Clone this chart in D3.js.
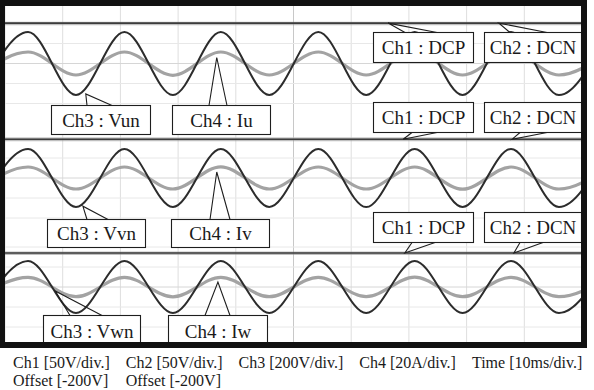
<!DOCTYPE html>
<html>
<head>
<meta charset="utf-8">
<script src="https://cdn.jsdelivr.net/npm/d3@7"></script>
<style>
  html, body { margin: 0; padding: 0; background: #fff; }
  svg { display: block; }
  text { font-family: "Liberation Serif", "DejaVu Serif", serif; fill: #1a1a1a; }
</style>
</head>
<body>
<svg id="chart" width="594" height="390"></svg>
<script>
// ------------------------------------------------------------
// data (one panel per phase)
// ------------------------------------------------------------
const panels = ['U', 'V', 'W'];

// alternating trough / peak instants of the traces (ms)
const extremaTimes = [-4.4, 4.0, 12.3, 20.7, 29.1, 37.4, 45.8, 54.3, 62.6, 71.0, 79.3, 87.7, 96.0, 104.4];

// Ch3 : phase voltages at those instants (V)
const vun = [-315, 315, -315, 315, -316, 315, -315, 316, -315, 315, -315, 315, -316, 315];
const vvn = [-290, 290, -290, 291, -290, 290, -290, 290, -291, 290, -290, 290, -290, 290];
const vwn = [-260, 260, -261, 260, -260, 261, -260, 260, -260, 260, -261, 260, -260, 260];

// Ch4 : phase currents at the same instants (A)
const iu = [-11.5, 11.5, -11.5, 11.5, -11.8, 11.5, -11.5, 11.5, -11.5, 11.8, -11.5, 11.5, -11.5, 11.5];
const iv = [-11, 11, -11, 11, -11, 11.2, -11, 11, -11, 11, -11.2, 11, -11, 11];
const iw = [-9.7, 9.7, -9.7, 9.7, -9.8, 9.7, -9.7, 9.7, -9.7, 9.8, -9.7, 9.7, -9.7, 9.7];

// Ch1 / Ch2 : DC bus levels per panel (V)
const dcp = [301, 297, 285];
const dcn = [300, 296.5, 284.5];

// callout texts
const voltageLabels = ['Ch3 : Vun', 'Ch3 : Vvn', 'Ch3 : Vwn'];
const currentLabels = ['Ch4 : Iu', 'Ch4 : Iv', 'Ch4 : Iw'];
const busLabels = ['Ch1 : DCP', 'Ch2 : DCN'];

// footer
const scaleLabels = ['Ch1 [50V/div.]', 'Ch2 [50V/div.]', 'Ch3 [200V/div.]', 'Ch4 [20A/div.]', 'Time [10ms/div.]'];
const offsetLabels = ['Offset [-200V]', 'Offset [-200V]'];

const voltages = [vun, vvn, vwn];
const currents = [iu, iv, iw];

// ------------------------------------------------------------
// layout
// ------------------------------------------------------------
const screen = { left: 5, right: 582, top: 6, bottom: 342 };
const divPx = 20;                    // vertical division on the screen
const panelMid = [63.5, 178, 287];   // zero line of each panel

const svg = d3.select('#chart');

const x = d3.scaleLinear().domain([0, 100]).range([screen.left, screen.right]);
// per panel scales : Ch3 200V/div, Ch4 20A/div, Ch1/Ch2 50V/div with -200V offset
const yV = panelMid.map((m) => d3.scaleLinear().domain([-200, 200]).range([m + divPx, m - divPx]));
const yI = panelMid.map((m) => d3.scaleLinear().domain([-20, 20]).range([m + divPx, m - divPx]));
const yDC = panelMid.map((m) => d3.scaleLinear().domain([150, 250]).range([m + divPx, m - divPx]));

svg.append('defs').append('clipPath').attr('id', 'scr')
  .append('rect')
  .attr('x', screen.left).attr('y', screen.top)
  .attr('width', screen.right - screen.left).attr('height', screen.bottom - screen.top);

const scr = svg.append('g').attr('clip-path', 'url(#scr)');

// grid
scr.append('g').selectAll('line')
  .data(x.ticks(10))
  .join('line')
  .attr('x1', (d) => x(d)).attr('x2', (d) => x(d))
  .attr('y1', screen.top).attr('y2', screen.bottom)
  .attr('stroke', (d) => (d === 50 ? '#c8c8c8' : '#dedede'))
  .attr('stroke-width', 1);

panels.forEach((p, i) => {
  scr.append('g').selectAll('line')
    .data([-400, -200, 0, 200, 400])
    .join('line')
    .attr('x1', screen.left).attr('x2', screen.right)
    .attr('y1', (d) => yV[i](d)).attr('y2', (d) => yV[i](d))
    .attr('stroke', (d) => (d === 0 ? '#d6d6d6' : '#e8e8e8'))
    .attr('stroke-width', 1);
});

// traces
const trace = (ys) => d3.line()
  .x((d) => x(d[0]))
  .y((d) => ys(d[1]))
  .curve(d3.curveMonotoneX);

panels.forEach((p, i) => {
  // DC bus : Ch2 (fuzzy halo) under Ch1
  scr.append('path')
    .attr('d', trace(yDC[i])([[0, dcn[i]], [100, dcn[i]]]))
    .attr('fill', 'none')
    .attr('stroke', '#8a8a8a')
    .attr('stroke-width', 3.6)
    .attr('opacity', 0.55);
  scr.append('path')
    .attr('d', trace(yDC[i])([[0, dcp[i]], [100, dcp[i]]]))
    .attr('fill', 'none')
    .attr('stroke', '#3c3c3c')
    .attr('stroke-width', 1.6);

  // Ch4 current
  scr.append('path')
    .attr('d', trace(yI[i])(extremaTimes.map((t, k) => [t, currents[i][k]])))
    .attr('fill', 'none')
    .attr('stroke', '#a3a3a3')
    .attr('stroke-width', 3.2);

  // Ch3 voltage
  scr.append('path')
    .attr('d', trace(yV[i])(extremaTimes.map((t, k) => [t, voltages[i][k]])))
    .attr('fill', 'none')
    .attr('stroke', '#2c2c2c')
    .attr('stroke-width', 2);
});

// ------------------------------------------------------------
// callouts: box [x, y, w, h], tail tip in data units, tail base x on box edge
// ------------------------------------------------------------
const callouts = [
  { text: voltageLabels[0], box: [51, 105, 99, 29], tip: () => [x(14.0), yV[0](-305)], base: [87, 112] },
  { text: currentLabels[0], box: [172, 105, 98, 29], tip: () => [x(36.7), yI[0](6)], base: [209, 227] },
  { text: busLabels[0], box: [373, 32, 100, 30], tip: () => [x(66.4), yDC[0](dcp[0])], base: [405, 437] },
  { text: busLabels[1], box: [484, 32, 97, 30], tip: () => [x(85.6), yDC[0](dcp[0])], base: [510, 547] },

  { text: busLabels[0], box: [373, 102, 100, 30], tip: () => [x(69.0), yDC[1](dcp[1])], base: [412, 437] },
  { text: busLabels[1], box: [484, 102, 97, 30], tip: () => [x(87.9), yDC[1](dcp[1])], base: [520, 547] },
  { text: voltageLabels[1], box: [47, 219, 98, 28], tip: () => [x(13.5), yV[1](-282)], base: [87, 108] },
  { text: currentLabels[1], box: [171, 219, 98, 28], tip: () => [x(36.7), yI[1](6)], base: [210, 230] },

  { text: busLabels[0], box: [373, 212, 100, 30], tip: () => [x(69.3), yDC[2](dcp[2])], base: [412, 435] },
  { text: busLabels[1], box: [484, 212, 97, 30], tip: () => [x(88.2), yDC[2](dcp[2])], base: [520, 543] },
  { text: voltageLabels[2], box: [43, 315, 97, 31], tip: () => [x(8.7), yV[2](-40)], base: [70, 102] },
  { text: currentLabels[2], box: [168, 315, 99, 31], tip: () => [x(36.9), yI[2](5)], base: [205, 230] },
];

const co = svg.append('g');
callouts.forEach((c) => {
  const [bx, by, bw, bh] = c.box;
  const [tx, ty] = c.tip();
  const edge = ty < by ? by : by + bh;
  co.append('rect')
    .attr('x', bx + 0.5).attr('y', by + 0.5)
    .attr('width', bw).attr('height', bh)
    .attr('fill', '#fff')
    .attr('stroke', '#1e1e1e')
    .attr('stroke-width', 1.1);
  co.append('polyline')
    .attr('points', [[c.base[0], edge + 0.5], [tx, ty], [c.base[1], edge + 0.5]].join(' '))
    .attr('fill', 'none')
    .attr('stroke', '#1e1e1e')
    .attr('stroke-width', 1.1);
  co.append('text')
    .attr('x', bx + bw / 2 + 0.5)
    .attr('y', by + bh / 2 + 7)
    .attr('text-anchor', 'middle')
    .attr('font-size', 19)
    .text(c.text);
});

// frame
svg.append('rect')
  .attr('x', 2).attr('y', 3)
  .attr('width', 582).attr('height', 342)
  .attr('fill', 'none')
  .attr('stroke', '#111')
  .attr('stroke-width', 6);

// footer, laid out left to right
const footer = svg.append('g').attr('font-size', 16);
let fx = 13;
scaleLabels.forEach((s, i) => {
  const t = footer.append('text').attr('x', fx).attr('y', 368).text(s);
  if (offsetLabels[i]) footer.append('text').attr('x', fx).attr('y', 386).text(offsetLabels[i]);
  fx += t.node().getComputedTextLength() + 16;
});
</script>
</body>
</html>
